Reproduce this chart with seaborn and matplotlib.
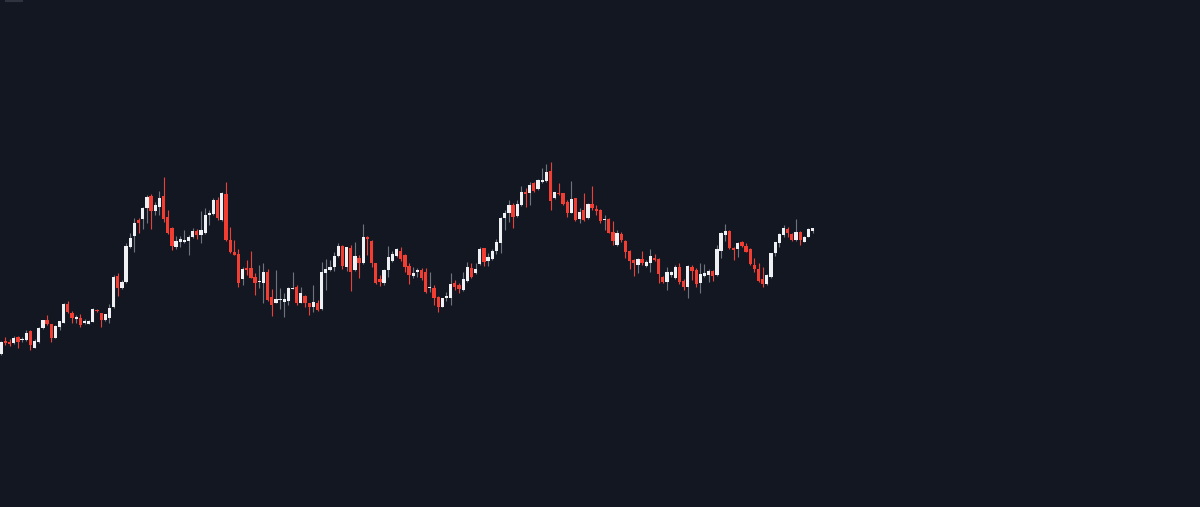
import numpy as np
import pandas as pd
import seaborn as sns
import matplotlib.pyplot as plt

# candle values (arbitrary price units)
opens = [146, 159, 158.5, 157.3, 163, 160, 160, 169.3, 152.3, 157.7,
         171.7, 179.7, 176.3, 162.3, 173.3, 177.3, 195.7, 187.3, 181.3, 182.3,
         177, 176.3, 178, 190, 187.3, 179.7, 181.7, 193, 223.7, 212.3,
         217.7, 253.3, 264.3, 280, 280.7, 292.3, 304, 289.3, 293.3, 304.3,
         283, 271.7, 252.7, 257.7, 258, 259, 263.3, 269.3, 265, 267.3,
         285, 286, 300, 280, 306, 260, 248, 245.7, 220.7, 232,
         232, 223.3, 218.5, 216.7, 227.7, 203.3, 197.3, 200.2, 198.3, 199,
         211.3, 213.3, 197.3, 204.3, 196.7, 192.7, 197.3, 190.7, 226.7, 230,
         233.3, 244, 254, 233.3, 252.3, 230, 241.7, 236.7, 262.7, 259.3,
         236.7, 220.7, 217.3, 230, 239.3, 244, 249.3, 245, 234, 224,
         228, 230, 228.3, 211.7, 212.3, 203.3, 193.3, 201.7, 201.7, 217.3,
         215, 210, 219.3, 231.7, 226.7, 236, 251.7, 239.3, 240.7, 249.3,
         257.3, 281.7, 286.7, 295, 284.3, 295, 308, 307.3, 317.3, 310.7,
         317.7, 319.3, 329.3, 301.7, 307.3, 306.7, 298.3, 287.3, 301.7, 280.7,
         290, 281.7, 296, 291, 290, 279.7, 280.7, 267.7, 255, 266,
         259.3, 249, 239.7, 235, 241, 234.3, 237.3, 242.3, 240.7, 223.3,
         217.7, 225, 222.3, 233.3, 219.3, 212.7, 232.7, 230, 216.7, 224,
         225, 229, 225, 249.3, 265, 269.3, 252.3, 250.7, 258.3, 254,
         251, 234.7, 230.7, 220.7, 216, 223.3, 247.3, 257.3, 265, 271,
         266, 260, 268.3, 258.3, 263.3, 269.3]
highs = [159, 163, 161, 164, 164, 163.3, 170, 170, 161, 173,
         180, 185, 176.5, 175, 179.3, 197.3, 199, 189, 185, 185.7,
         181, 180, 191.7, 190.7, 187.5, 186, 196, 225, 226.7, 220,
         256.7, 267.3, 282.3, 282.3, 293.3, 305, 305.7, 298.3, 309.3, 323.3,
         290, 272.7, 264, 264, 270, 265, 271.7, 270.7, 289, 291.7,
         290, 301.7, 303.3, 308, 318.3, 273.3, 260, 251, 233.3, 240,
         249, 227.3, 235, 237.3, 231, 211, 230, 211.7, 207.3, 213.3,
         227.7, 215, 212.7, 205, 197, 215, 200, 238.3, 240.7, 240,
         248.3, 256.7, 255, 253.3, 255, 258.3, 245, 276, 264, 260,
         237.3, 225, 230.7, 254, 249.3, 251.7, 252.7, 245.7, 236.7, 233.3,
         231.7, 232.3, 231.7, 228.3, 215, 204, 202.3, 208.3, 226.7, 220,
         217.3, 228.3, 238.3, 236.7, 236.7, 253.3, 252.3, 246.7, 250.7, 260.7,
         283.3, 290, 300, 296.7, 300, 314.3, 311.7, 318.3, 318.3, 320.7,
         331.7, 336, 338.3, 308.3, 316.7, 307.3, 300, 319, 302.3, 291.7,
         306.7, 296.7, 314, 295, 290.7, 285, 281.7, 279.3, 270, 268.3,
         260, 250, 240.7, 241.7, 249.3, 240, 251, 246, 241.7, 224,
         232.7, 229.3, 235, 236.7, 220.7, 235, 235, 231.7, 236.7, 236,
         230.7, 230, 255, 268.3, 275.7, 270, 252.7, 258.3, 259, 256.7,
         251.7, 241.7, 236.7, 232.7, 225.7, 247.3, 258.3, 267.3, 275, 272.7,
         266.7, 280.7, 268.7, 264, 271.7, 271.7]
lows = [145, 155, 154, 156, 152, 158, 159.3, 150, 151.7, 157.5,
        171.5, 175.5, 158.3, 162, 170, 176.7, 186.7, 177.3, 177, 173.3,
        176, 176, 177.7, 188, 173.3, 179.5, 177.3, 192.5, 204, 211.3,
        216.7, 251.7, 248.3, 266.7, 270.7, 277.3, 271, 285, 285, 278.3,
        266, 250, 251, 253.3, 256.7, 245, 261.7, 260.7, 257.3, 266,
        275, 285, 280, 279.3, 259.3, 246.7, 244.7, 212.7, 215, 224.7,
        221.7, 205, 211.7, 196.7, 199.3, 184.3, 196.7, 190.7, 182.7, 195,
        210.7, 195, 196.7, 193.3, 185, 188.3, 189.5, 190, 210, 229.3,
        229.3, 242.7, 230.7, 229.3, 209.3, 229.3, 221.7, 236, 245, 232.7,
        216, 214, 215, 223.3, 238.3, 242.7, 239.3, 228.3, 216, 221.7,
        223.3, 220, 206.7, 208.3, 195, 188.3, 192.7, 199, 195, 210,
        206.7, 209.3, 218.3, 221.7, 226, 235, 234, 234, 240, 246,
        247, 270, 278.3, 271.7, 283.3, 294.3, 293.3, 295, 308.3, 310,
        317.3, 318.3, 290, 301, 305, 295, 282.7, 286.7, 279.3, 276.7,
        279.3, 280.7, 290, 285, 276.7, 270, 266.7, 255, 254, 258.3,
        241.7, 230.7, 224, 226.7, 235, 233.3, 228.3, 239, 216.7, 217.3,
        210, 223.3, 221.3, 216, 210, 201.7, 220, 212.7, 207.3, 223.3,
        218.3, 219.3, 224.3, 242.3, 259, 250.7, 240, 242.7, 252.7, 247.7,
        235, 228.3, 218.3, 212.7, 215, 221.7, 244, 253.3, 263.3, 263.3,
        259.3, 259.3, 255, 257.7, 262.7, 267.3]
closes = [158, 157, 156.5, 161.7, 158, 161, 167.3, 154.7, 159, 172.3,
          179.7, 175.7, 162.3, 174.3, 178.7, 195.7, 188.3, 182.3, 183, 174.7,
          179, 179.3, 191.3, 188.7, 180, 185.7, 191.7, 223, 212.3, 217.7,
          254, 261.7, 277.3, 276.7, 292.3, 303, 289.3, 295.3, 302.3, 281,
          266.7, 254.3, 259, 261.3, 260, 263.3, 269, 265, 270, 285,
          287.3, 300, 282.3, 307.3, 260, 247.7, 245, 216.7, 231, 230,
          222.3, 217.3, 219.5, 228.3, 200, 195, 200.7, 201, 200.7, 212,
          212, 197.3, 206.7, 197.3, 193.3, 197.7, 190, 228.3, 230.7, 232.7,
          244, 254, 234.3, 252.7, 228.3, 244, 236.7, 263.3, 260.7, 237.3,
          216.7, 218.3, 230, 242.7, 245.7, 250.7, 241.3, 233.3, 225, 226.7,
          230, 221.7, 207.7, 212.3, 202.3, 193.3, 201.7, 204, 216, 213.3,
          210.7, 220.7, 233.3, 223.3, 230.7, 250.7, 238.3, 243.3, 249.3, 257.7,
          281.7, 287.3, 295, 283.3, 296, 308.3, 306, 315, 309.3, 320,
          320, 328.3, 299.3, 307.7, 306, 296, 287.3, 301, 280, 288.3,
          280, 296, 291.7, 289, 279.3, 280.3, 267.3, 259, 266.7, 260,
          248.3, 239.3, 236.7, 241, 236.7, 238.3, 244, 240, 225.7, 218.3,
          227.7, 228.3, 232.7, 217.7, 212.7, 234.3, 229.3, 216, 226, 226.7,
          229, 224.3, 250.7, 267.3, 269, 251.7, 250, 256.7, 254, 248.3,
          236, 231, 219.3, 216, 225, 246.7, 257.7, 266, 271.7, 266.7,
          260, 268.3, 260, 263.3, 270.7, 271.7]

bg = "#131722"
up_body = "#eef0f3"
up_wick = "#6f737d"
down_body = "#f23d32"
down_wick = "#e8413a"

df = pd.DataFrame({"open": opens, "high": highs, "low": lows, "close": closes})
df["x"] = np.arange(len(df))
df["up"] = df["close"] >= df["open"]
df["bottom"] = df[["open", "close"]].min(axis=1)
df["body"] = (df["close"] - df["open"]).abs().clip(lower=1.0)

sns.set_style("dark", rc={"axes.facecolor": bg, "figure.facecolor": bg})

fig = plt.figure(figsize=(12, 5.07), dpi=100)
ax = fig.add_axes([0, 0, 1, 1])

for is_up, grp in df.groupby("up"):
    wick_c = up_wick if is_up else down_wick
    body_c = up_body if is_up else down_body
    ax.vlines(grp["x"], grp["low"], grp["high"], color=wick_c, linewidth=0.8, zorder=1)
    ax.bar(grp["x"], grp["body"], bottom=grp["bottom"], width=0.78,
           color=body_c, linewidth=0, zorder=2)

# small grey strip in the top-left corner
ax.plot([0.004, 0.019], [0.999, 0.999], transform=ax.transAxes,
        color="#2f3340", linewidth=1.5, solid_capstyle="butt")

ax.set_xlim(-0.31, 288.1)
ax.set_ylim(-7, 500)
ax.set_xticks([])
ax.set_yticks([])
for s in ax.spines.values():
    s.set_visible(False)
ax.grid(False)

fig.savefig("out.png", dpi=100, facecolor=bg)
